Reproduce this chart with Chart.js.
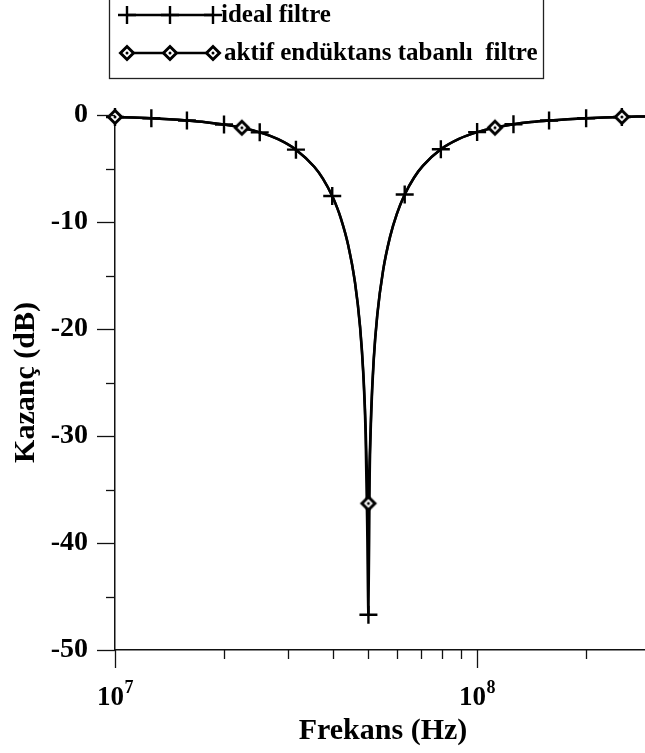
<!DOCTYPE html>
<html>
<head>
<meta charset="utf-8">
<script src="https://cdn.jsdelivr.net/npm/chart.js@4.4.0/dist/chart.umd.min.js"></script>
<style>
  html, body { margin: 0; padding: 0; background: #fff; overflow: hidden; }
  #wrap { width: 645px; height: 753px; position: relative; }
</style>
</head>
<body>
<div id="wrap"><canvas id="c" width="645" height="753"></canvas></div>
<script>
// Frequency response of the notch filters (gain in dB vs. frequency in Hz)
const freqHz = [1e7, 1.12e7, 1.26e7, 1.41e7, 1.58e7, 1.78e7, 2e7, 2.24e7, 2.51e7, 2.82e7,
  3.16e7, 3.55e7, 3.75e7, 3.98e7, 4.1e7, 4.2e7, 4.4e7, 4.6e7, 4.75e7, 4.85e7,
  4.92e7, 4.97e7, 5.01e7, 5.05e7, 5.1e7, 5.18e7, 5.3e7, 5.5e7, 5.75e7, 6e7,
  6.31e7, 6.7e7, 7.08e7, 7.94e7, 8.91e7, 1e8, 1.12e8, 1.26e8, 1.41e8, 1.58e8,
  1.78e8, 2e8, 2.24e8, 2.51e8, 2.82e8, 2.91e8];

const idealDb = [-0.18, -0.24, -0.30, -0.39, -0.51, -0.67, -0.89, -1.19, -1.62, -2.26,
  -3.24, -4.84, -5.95, -7.57, -8.61, -9.61, -12.10, -15.67, -19.82, -24.32,
  -29.83, -38.39, -46.7, -34.02, -28.05, -23.03, -18.72, -14.54, -11.37, -9.26,
  -7.43, -5.84, -4.75, -3.20, -2.23, -1.60, -1.18, -0.87, -0.66, -0.51,
  -0.39, -0.30, -0.23, -0.18, -0.14, -0.13];

const activeDb = [-0.18, -0.24, -0.30, -0.39, -0.51, -0.67, -0.89, -1.19, -1.62, -2.26,
  -3.24, -4.84, -5.95, -7.57, -8.61, -9.61, -12.08, -15.63, -19.72, -24.05,
  -28.95, -34.22, -36.3, -32.01, -27.45, -22.83, -18.65, -14.51, -11.37, -9.26,
  -7.43, -5.84, -4.75, -3.20, -2.23, -1.60, -1.18, -0.87, -0.66, -0.51,
  -0.39, -0.30, -0.23, -0.18, -0.14, -0.13];

// Frequencies that carry a marker symbol
const idealMarkerHz = [1e7, 1.26e7, 1.58e7, 2e7, 2.51e7, 3.16e7, 3.98e7, 5.01e7, 6.31e7,
  7.94e7, 1e8, 1.26e8, 1.58e8, 2e8, 2.51e8];
const activeMarkerHz = [1e7, 2.24e7, 5.01e7, 1.12e8, 2.51e8];

const seriesNames = ['ideal filtre', 'aktif endüktans tabanlı  filtre'];
const xTitle = 'Frekans (Hz)';
const yTitle = 'Kazanç (dB)';

const yMajorTicks = [0, -10, -20, -30, -40, -50];
const yMinorTicks = [-5, -15, -25, -35, -45];
const xMajorTicks = [1e7, 1e8];
const xMajorExponents = ['7', '8'];
const xMinorTicks = [2e7, 3e7, 4e7, 5e7, 6e7, 7e7, 8e7, 9e7, 2e8];

const FONT = '"Liberation Serif", "Times New Roman", Times, serif';
const INK = '#000';

// Diamond marker with a small centre dot
function diamondMarker() {
  const c = document.createElement('canvas');
  c.width = 20; c.height = 20;
  const g = c.getContext('2d');
  g.translate(10, 10);
  g.beginPath();
  g.moveTo(-6.5, 0); g.lineTo(0, -6.5); g.lineTo(6.5, 0); g.lineTo(0, 6.5);
  g.closePath();
  g.fillStyle = '#fff'; g.fill();
  g.lineWidth = 3; g.strokeStyle = INK; g.lineJoin = 'miter'; g.stroke();
  g.beginPath(); g.arc(0, 0, 1.5, 0, Math.PI * 2); g.fillStyle = INK; g.fill();
  return c;
}
const diamond = diamondMarker();

const toPoints = ys => freqHz.map((f, i) => ({ x: f, y: ys[i] }));
const radiusAt = (marks, r) => ctx => (ctx.raw && marks.includes(ctx.raw.x)) ? r : 0;

// Ticks, tick labels, axis titles and legend box
const decorations = {
  id: 'decorations',
  afterDraw(chart) {
    const { ctx, chartArea: a, scales: { x, y } } = chart;
    ctx.save();
    ctx.strokeStyle = '#111';
    ctx.lineWidth = 1.3;
    const hTick = (v, len) => {
      const py = Math.round(y.getPixelForValue(v)) + 0.5;
      ctx.beginPath(); ctx.moveTo(a.left - len, py); ctx.lineTo(a.left, py); ctx.stroke();
    };
    const vTick = (v, len) => {
      const px = Math.round(x.getPixelForValue(v)) + 0.5;
      ctx.beginPath(); ctx.moveTo(px, a.bottom); ctx.lineTo(px, a.bottom + len); ctx.stroke();
    };
    yMajorTicks.forEach(v => hTick(v, 18));
    yMinorTicks.forEach(v => hTick(v, 9));
    xMajorTicks.forEach(v => vTick(v, 18));
    xMinorTicks.forEach(v => vTick(v, 9));

    // x tick labels as powers of ten
    ctx.fillStyle = INK;
    ctx.textAlign = 'left';
    ctx.textBaseline = 'alphabetic';
    const baseFont = `bold 27px ${FONT}`;
    const expFont = `bold 18px ${FONT}`;
    xMajorTicks.forEach((v, i) => {
      const px = x.getPixelForValue(v);
      ctx.font = baseFont;
      const wb = ctx.measureText('10').width;
      ctx.font = expFont;
      const we = ctx.measureText(xMajorExponents[i]).width;
      const left = px - (wb + we) / 2;
      ctx.font = baseFont;
      ctx.fillText('10', left, a.bottom + 55);
      ctx.font = expFont;
      ctx.fillText(xMajorExponents[i], left + wb + 0.5, a.bottom + 43);
    });

    // axis titles
    ctx.font = `bold 30px ${FONT}`;
    ctx.textAlign = 'center';
    ctx.textBaseline = 'middle';
    ctx.fillText(xTitle, (a.left + a.right) / 2 + 3, a.bottom + 81);
    ctx.save();
    ctx.translate(26, (a.top + a.bottom) / 2);
    ctx.rotate(-Math.PI / 2);
    ctx.fillText(yTitle, 0, 0);
    ctx.restore();

    // legend
    const box = { left: 109.5, right: 543.5, top: -6, bottom: 78.5 };
    ctx.lineWidth = 1.3;
    ctx.strokeStyle = '#222';
    ctx.strokeRect(box.left, box.top, box.right - box.left, box.bottom - box.top);
    const rows = [15, 53];
    const sx = [127, 170, 213];
    ctx.strokeStyle = INK;
    ctx.lineWidth = 2.4;
    rows.forEach(ry => {
      ctx.beginPath(); ctx.moveTo(sx[0], ry); ctx.lineTo(sx[2], ry); ctx.stroke();
    });
    sx.forEach(px => {
      ctx.beginPath();
      ctx.moveTo(px - 9, rows[0]); ctx.lineTo(px + 9, rows[0]);
      ctx.moveTo(px, rows[0] - 9); ctx.lineTo(px, rows[0] + 9);
      ctx.stroke();
      ctx.drawImage(diamond, px - 10, rows[1] - 10);
    });
    ctx.font = `bold 25px ${FONT}`;
    ctx.textAlign = 'left';
    ctx.textBaseline = 'middle';
    ctx.fillText(seriesNames[0], 221, rows[0] + 1);
    ctx.fillText(seriesNames[1], 224, rows[1] + 1);
    ctx.restore();
  }
};

new Chart(document.getElementById('c'), {
  type: 'line',
  data: {
    datasets: [
      {
        label: seriesNames[1],
        data: toPoints(activeDb),
        borderColor: INK,
        borderWidth: 2.5,
        cubicInterpolationMode: 'monotone',
        pointStyle: diamond,
        pointRadius: radiusAt(activeMarkerHz, 7),
        clip: false
      },
      {
        label: seriesNames[0],
        data: toPoints(idealDb),
        borderColor: INK,
        borderWidth: 2.5,
        cubicInterpolationMode: 'monotone',
        pointStyle: 'cross',
        pointRadius: radiusAt(idealMarkerHz, 9),
        pointBorderWidth: 2.4,
        pointBorderColor: INK,
        clip: false
      }
    ]
  },
  options: {
    responsive: false,
    animation: false,
    devicePixelRatio: 1,
    events: [],
    layout: { autoPadding: false, padding: { top: 115, right: 0, left: 0, bottom: 0 } },
    plugins: { legend: { display: false }, tooltip: { enabled: false } },
    scales: {
      x: {
        type: 'logarithmic',
        min: 1e7,
        max: 2.908e8,
        grid: { display: true, drawOnChartArea: false, drawTicks: false },
        border: { display: true, color: '#111', width: 1.5 },
        ticks: { display: false },
        afterFit: s => { s.height = 103; }
      },
      y: {
        min: -50,
        max: 0,
        grid: { display: true, drawOnChartArea: false, drawTicks: false },
        border: { display: true, color: '#111', width: 1.5 },
        ticks: {
          stepSize: 10,
          padding: 27,
          color: INK,
          font: { family: FONT, size: 28, weight: 'bold' },
          callback: v => yMajorTicks.includes(v) ? String(v) : ''
        },
        afterFit: s => { s.width = 115; }
      }
    }
  },
  plugins: [decorations]
});
</script>
</body>
</html>
